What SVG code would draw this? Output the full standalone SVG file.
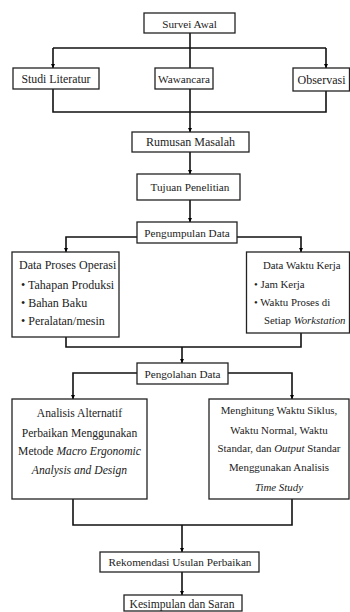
<svg xmlns="http://www.w3.org/2000/svg" width="350" height="612" viewBox="0 0 350 612">
<defs>
<marker id="ah" viewBox="0 0 10 10" refX="10" refY="5" markerWidth="4.5" markerHeight="4.5" orient="auto" markerUnits="userSpaceOnUse">
<path d="M0,0 L10,5 L0,10 Z" fill="#000"/>
</marker>
<style>
.box{fill:#fff;stroke:#222;stroke-width:1.3}
.t{font-family:"Liberation Serif","Times New Roman",serif;font-size:11.2px;fill:#222}
.c{text-anchor:middle}
.ln{fill:none;stroke:#111;stroke-width:1.6}
.ar{fill:none;stroke:#111;stroke-width:1.6;marker-end:url(#ah)}
</style>
</defs>
<rect width="350" height="612" fill="#fff"/>
<g id="connectors">
<polyline class="ln" points="190,33 190,68"/>
<polyline class="ln" points="53,48 326,48"/>
<polyline class="ar" points="53,48 53,68"/>
<polyline class="ar" points="326,48 326,68"/>
<polyline class="ln" points="53,89 53,112 326,112 326,91"/>
<polyline class="ln" points="190,89 190,112"/>
<polyline class="ar" points="190,112 190,132"/>
<polyline class="ar" points="190,152 190,174"/>
<polyline class="ar" points="190,200 190,222"/>
<polyline class="ar" points="137,237 66,237 66,252"/>
<polyline class="ar" points="237,237 301,237 301,252"/>
<polyline class="ln" points="66,337 66,347 301,347 301,333"/>
<polyline class="ar" points="182,347 182,363"/>
<polyline class="ar" points="137,373 73,373 73,399"/>
<polyline class="ar" points="228,373 292,373 292,399"/>
<polyline class="ln" points="73,499 73,525 292,525 292,499"/>
<polyline class="ar" points="182,525 182,552"/>
<polyline class="ar" points="182,572 182,595"/>
</g>
<g id="survei-awal"><rect class="box" x="144" y="13" width="91" height="20"/><text class="t c" x="189.5" y="27.5" font-size="11px">Survei Awal</text></g>
<g id="studi-literatur"><rect class="box" x="13" y="68" width="86" height="21"/><text class="t c" x="56" y="82.5" style="font-size:11.8px">Studi Literatur</text></g>
<g id="wawancara"><rect class="box" x="155" y="68" width="58" height="21"/><text class="t c" x="184" y="82.5">Wawancara</text></g>
<g id="observasi"><rect class="box" x="293" y="68" width="56.5" height="23"/><text class="t c" x="321.5" y="83.5" style="font-size:12px">Observasi</text></g>
<g id="rumusan-masalah"><rect class="box" x="132" y="132" width="117" height="20"/><text class="t c" x="190.5" y="146" style="font-size:12px">Rumusan Masalah</text></g>
<g id="tujuan-penelitian"><rect class="box" x="137" y="174" width="103" height="26"/><text class="t c" x="190" y="191">Tujuan Penelitian</text></g>
<g id="pengumpulan-data"><rect class="box" x="137" y="222" width="100" height="21"/><text class="t c" x="187" y="236.5">Pengumpulan Data</text></g>
<g id="data-proses-operasi" style="font-size:12px"><rect class="box" x="12" y="252" width="107" height="85"/>
<text class="t" x="19" y="269" style="font-size:12px">Data Proses Operasi</text>
<text class="t" x="21" y="288.5" style="font-size:12px">• Tahapan Produksi</text>
<text class="t" x="21" y="306.5" style="font-size:12px">• Bahan Baku</text>
<text class="t" x="21" y="325" style="font-size:12px">• Peralatan/mesin</text></g>
<g id="data-waktu-kerja"><rect class="box" x="246.5" y="252" width="103" height="81"/>
<text class="t" x="263" y="269" style="font-size:10.8px">Data Waktu Kerja</text>
<text class="t" x="254" y="288" style="font-size:10.8px">• Jam Kerja</text>
<text class="t" x="254" y="306" style="font-size:10.8px">• Waktu Proses di</text>
<text class="t" x="264" y="324" style="font-size:10.8px">Setiap <tspan font-style="italic">Workstation</tspan></text></g>
<g id="pengolahan-data"><rect class="box" x="137" y="363" width="91" height="21"/><text class="t c" x="182.5" y="377.5">Pengolahan Data</text></g>
<g id="analisis-alternatif"><rect class="box" x="12" y="399" width="135" height="100"/>
<text class="t c" x="79.5" y="417" style="font-size:11.6px">Analisis Alternatif</text>
<text class="t c" x="79.5" y="437" style="font-size:11.6px">Perbaikan Menggunakan</text>
<text class="t c" x="79.5" y="455" style="font-size:11.6px">Metode <tspan font-style="italic">Macro Ergonomic</tspan></text>
<text class="t c" x="79.5" y="474" font-style="italic" style="font-size:11.6px">Analysis and Design</text></g>
<g id="menghitung-waktu"><rect class="box" x="209" y="399" width="140" height="100"/>
<text class="t c" x="279" y="414" style="font-size:10.9px">Menghitung Waktu Siklus,</text>
<text class="t c" x="279" y="434" style="font-size:10.9px">Waktu Normal, Waktu</text>
<text class="t c" x="279" y="452" style="font-size:10.9px">Standar, dan <tspan font-style="italic">Output</tspan> Standar</text>
<text class="t c" x="279" y="471" style="font-size:10.9px">Menggunakan Analisis</text>
<text class="t c" x="279" y="491" font-style="italic" style="font-size:10.9px">Time Study</text></g>
<g id="rekomendasi"><rect class="box" x="100" y="552" width="159" height="20"/><text class="t c" x="180" y="566">Rekomendasi Usulan Perbaikan</text></g>
<g id="kesimpulan"><rect class="box" x="124" y="595" width="118" height="16"/><text class="t c" x="182" y="608" style="font-size:11.6px">Kesimpulan dan Saran</text></g>
</svg>
